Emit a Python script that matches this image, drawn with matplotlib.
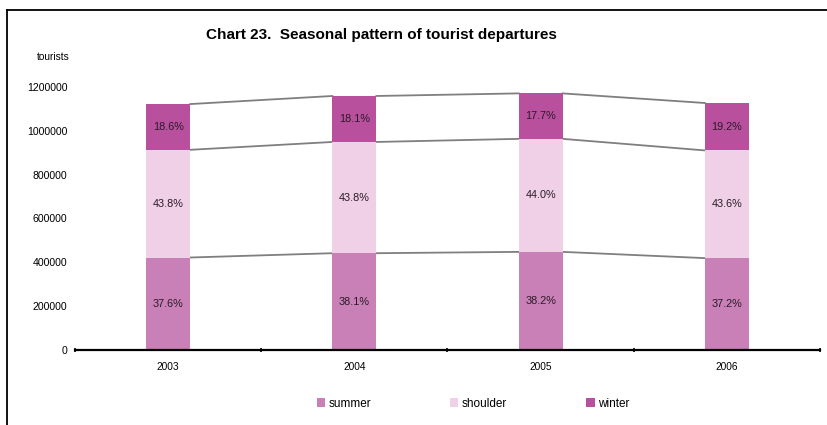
import matplotlib.pyplot as plt
from matplotlib.lines import Line2D
import numpy as np

plt.rcParams["font.family"] = ["Liberation Sans", "DejaVu Sans"]

years = ["2003", "2004", "2005", "2006"]
summer = [422000, 441600, 447700, 419200]
shoulder = [491400, 507600, 515700, 491400]
winter = [208700, 209800, 207400, 216400]
summer_pct = ["37.6%", "38.1%", "38.2%", "37.2%"]
shoulder_pct = ["43.8%", "43.8%", "44.0%", "43.6%"]
winter_pct = ["18.6%", "18.1%", "17.7%", "19.2%"]

colors = {"summer": "#c980b6", "shoulder": "#f0d0e6", "winter": "#b8509e"}

fig = plt.figure(figsize=(8.27, 4.25), dpi=100)
ax = fig.add_axes([0.0907, 0.1765, 0.9008, 0.6188])

x = np.arange(len(years))
w = 0.236
series = [("summer", summer, summer_pct), ("shoulder", shoulder, shoulder_pct),
          ("winter", winter, winter_pct)]
bottom = np.zeros(len(years))
for name, vals, pcts in series:
    vals = np.asarray(vals, dtype=float)
    ax.bar(x, vals, w, bottom=bottom, color=colors[name], label=name, zorder=2)
    for xi, b, v, p in zip(x, bottom, vals, pcts):
        ax.text(xi, b + v / 2, p, ha="center", va="center", fontsize=7.8, color="#2a1a28")
    bottom = bottom + vals
    # series lines between bar tops
    for i in range(len(years) - 1):
        ax.plot([x[i] + w / 2, x[i + 1] - w / 2], [bottom[i], bottom[i + 1]],
                color="#7f7f7f", lw=1.3, zorder=1)

ax.set_xlim(-0.5, len(years) - 0.5)
ax.set_ylim(0, 1200000)
ax.set_yticks(np.arange(0, 1200001, 200000))
ax.set_yticklabels([str(v) for v in range(0, 1200001, 200000)], fontsize=7.6)
ax.tick_params(axis="y", length=0, pad=5.5)

ax.set_xticks(np.arange(-0.5, len(years)), labels=[""] * (len(years) + 1))
ax.set_xticks(x, labels=years, minor=True)
ax.tick_params(axis="x", which="major", length=3.5, width=1.2, direction="inout")
ax.tick_params(axis="x", which="minor", length=0, pad=9, labelsize=7.3)

for s in ["left", "right", "top"]:
    ax.spines[s].set_visible(False)
ax.spines["bottom"].set_linewidth(1.6)
ax.spines["bottom"].set_zorder(3)

fig.text(0.0447, 0.865, "tourists", fontsize=7.3, ha="left", va="center")
fig.text(0.461, 0.918, "Chart 23.  Seasonal pattern of tourist departures",
         fontsize=11, fontweight="bold", ha="center", va="center")

handles, labels = ax.get_legend_handles_labels()
fig.legend(handles, labels, loc="center", bbox_to_anchor=(0.572, 0.05), ncol=3,
           frameon=False, fontsize=8.5, handlelength=0.7, handleheight=0.7,
           handletextpad=0.3, columnspacing=6.7)

# frame lines (left and top)
fig.add_artist(Line2D([7 / 827, 7 / 827], [0, 1 - 10 / 425], color="black", lw=1.3,
                      transform=fig.transFigure))
fig.add_artist(Line2D([7 / 827, 1], [1 - 10 / 425, 1 - 10 / 425], color="black", lw=1.3,
                      transform=fig.transFigure))

fig.savefig("out.png", dpi=100)
